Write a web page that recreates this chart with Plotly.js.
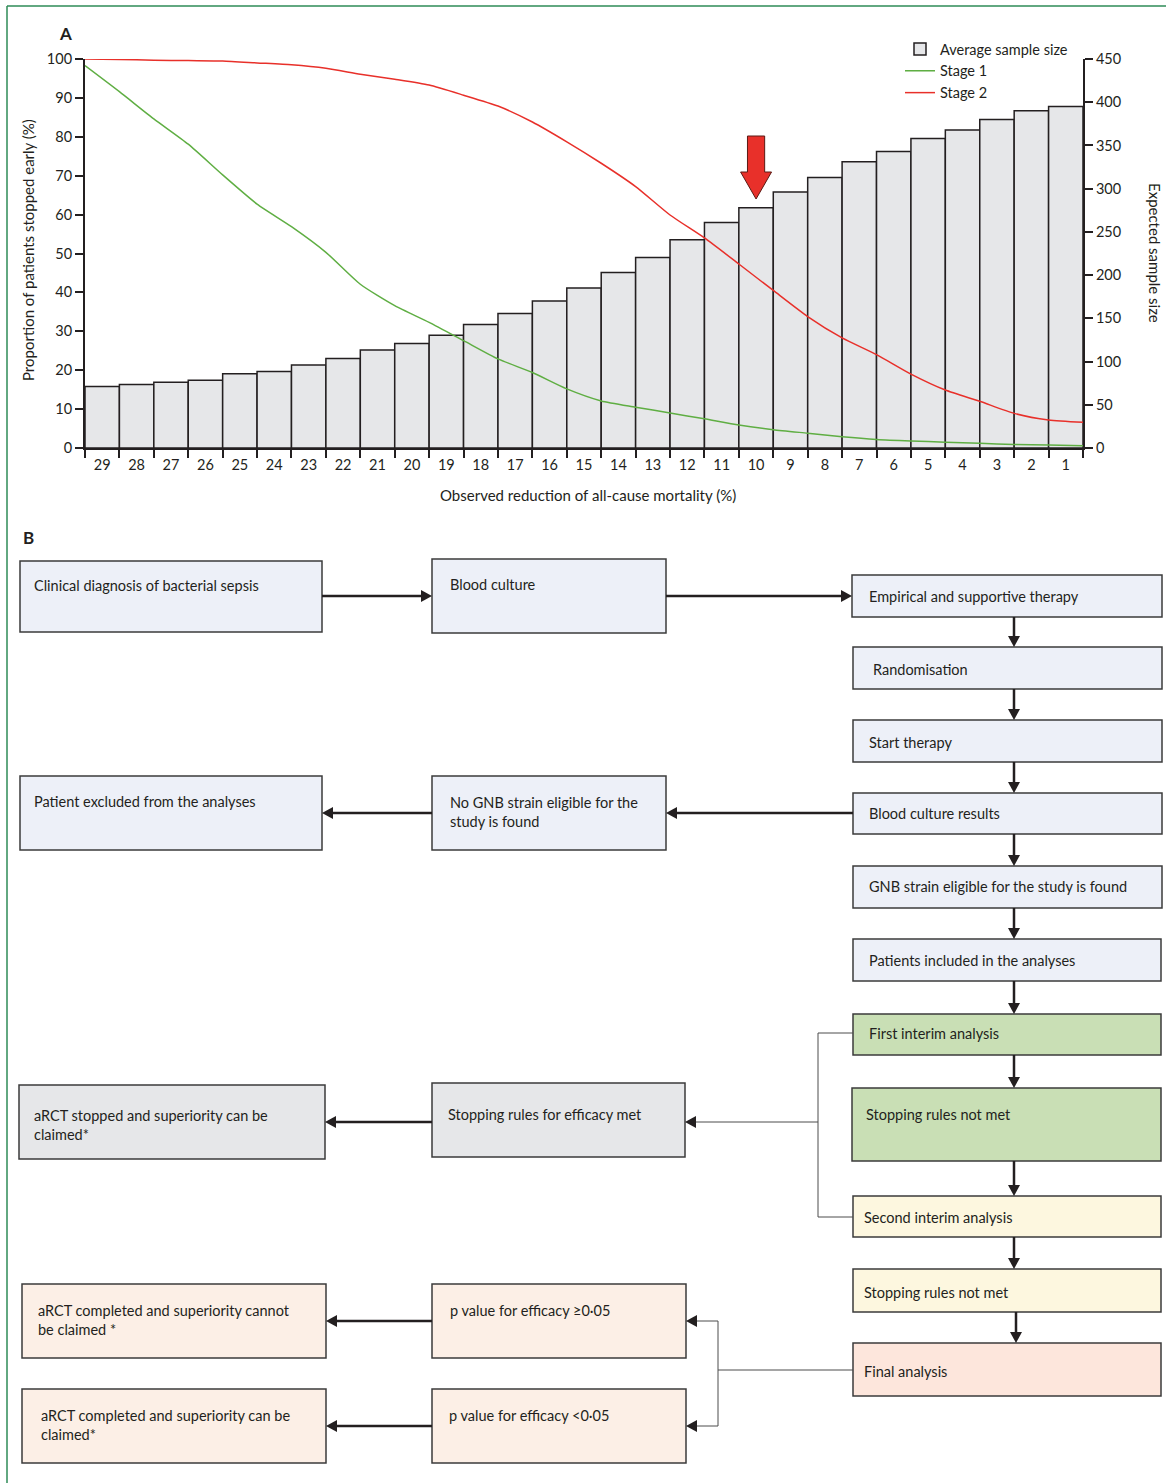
<!DOCTYPE html>
<html><head><meta charset="utf-8">
<script src="https://cdn.plot.ly/plotly-3.0.1.min.js"></script>
<style>html,body{margin:0;padding:0;background:#fff}#chart{width:1166px;height:1483px}</style>
</head><body><div id="chart"></div>
<script>
// ---- Data (panel A) ----
const reductionValues = [29,28,27,26,25,24,23,22,21,20,19,18,17,16,15,14,13,12,11,10,9,8,7,6,5,4,3,2,1];
const reductionLabels = ["29","28","27","26","25","24","23","22","21","20","19","18","17","16","15","14","13","12","11","10","9","8","7","6","5","4","3","2","1"];
const avgSampleSize = [71,73.5,76,78.5,86,88.5,96,103.5,113.5,121,130.5,143,155.5,170,185,203,220.5,241,261,278,296,313,331,343,358,368,380,390,395];
const lineReduction = [29.5,28.5,27.5,26.5,25.5,24.5,23.5,22.5,21.5,20.5,19.5,18.5,17.5,16.5,15.5,14.5,13.5,12.5,11.5,10.5,9.5,8.5,7.5,6.5,5.5,4.5,3.5,2.5,1.5,0.5];
const stage1 = [98.3,91.6,84.6,78.1,70.2,62.7,56.9,50.3,42.1,36.6,32.3,27.6,22.9,19.4,15.2,12.1,10.5,9.0,7.5,5.9,4.7,3.8,2.9,2.2,1.8,1.5,1.2,0.9,0.8,0.6];
const stage2 = [100,99.9,99.7,99.6,99.5,99,98.5,97.6,96.1,94.8,93.3,90.7,87.9,83.8,78.7,73.2,67.2,59.9,54,47.3,40.5,33.8,28.3,24,19,14.9,12,8.9,7.2,6.6];
const leftTicks = [0,10,20,30,40,50,60,70,80,90,100];
const rightTicks = [0,50,100,150,200,250,300,350,400,450];
const highlightedReduction = 10;

// ---- Flowchart text (panel B) ----
const flowTexts = {
  diag: "Clinical diagnosis of bacterial sepsis",
  blood: "Blood culture",
  emp: "Empirical and supportive therapy",
  rand: "Randomisation",
  start: "Start therapy",
  bcr: "Blood culture results",
  gnb: "GNB strain eligible for the study is found",
  incl: "Patients included in the analyses",
  first: "First interim analysis",
  notmet1: "Stopping rules not met",
  second: "Second interim analysis",
  notmet2: "Stopping rules not met",
  final: "Final analysis",
  excl: "Patient excluded from the analyses",
  nognb: "No GNB strain eligible for the<br>study is found",
  stopped: "aRCT stopped and superiority can be<br>claimed*",
  effmet: "Stopping rules for efficacy met",
  cannot: "aRCT completed and superiority cannot<br>be claimed *",
  pge: "p value for efficacy ≥0·05",
  can: "aRCT completed and superiority can be<br>claimed*",
  plt: "p value for efficacy &lt;0·05"
};

const W = 1166, H = 1483;
const X = p => p / W;
const Y = p => 1 - p / H;
const INK = '#231f20';
const FONT = 'Lato, "Open Sans", sans-serif';

const C_BLUE = '#edf0f8', C_GREY = '#e6e7e9', C_GREEN = '#c9dfb5', C_CREAM = '#fdf7df', C_PEACH = '#fde6dc', C_PEACH2 = '#fcefe6';

const boxes = [
  [20,561,322,632,C_BLUE,'diag',34,585],
  [432,559,666,633,C_BLUE,'blood',450,584],
  [852,575,1162,617,C_BLUE,'emp',869,596],
  [853,647,1162,689,C_BLUE,'rand',873,669],
  [853,720,1162,762,C_BLUE,'start',869,742],
  [853,793,1162,834,C_BLUE,'bcr',869,813],
  [853,866,1162,908,C_BLUE,'gnb',869,886],
  [853,939,1161,981,C_BLUE,'incl',869,960],
  [853,1014,1161,1055,C_GREEN,'first',869,1033],
  [852,1088,1161,1161,C_GREEN,'notmet1',866,1114],
  [853,1196,1161,1237,C_CREAM,'second',864,1217],
  [853,1269,1161,1312,C_CREAM,'notmet2',864,1292],
  [853,1343,1161,1396,C_PEACH,'final',864,1371],
  [20,776,322,850,C_BLUE,'excl',34,801],
  [432,776,666,850,C_BLUE,'nognb',450,811.5],
  [19,1085,325,1159,C_GREY,'stopped',34,1124.5],
  [432,1083,685,1157,C_GREY,'effmet',448,1114],
  [22,1284,326,1358,C_PEACH2,'cannot',38,1319.5],
  [432,1284,686,1358,C_PEACH2,'pge',450,1310],
  [22,1389,326,1463,C_PEACH2,'can',41,1425],
  [432,1389,686,1463,C_PEACH2,'plt',449,1415]
];

const shapes = [];
const annotations = [];

function seg(x0,y0,x1,y1,w,c){
  shapes.push({type:'line',xref:'paper',yref:'paper',x0:X(x0),y0:Y(y0),x1:X(x1),y1:Y(y1),line:{color:c,width:w}});
}
function tri(pts,c){
  shapes.push({type:'path',xref:'paper',yref:'paper',path:'M'+pts.map(p=>X(p[0])+','+Y(p[1])).join('L')+'Z',fillcolor:c,line:{width:0}});
}
const HL = 11, HW = 6;
function arrowH(xt,xh,y,w,c){
  const d = Math.sign(xh-xt);
  seg(xt,y,xh-d*HL,y,w,c);
  tri([[xh,y],[xh-d*HL,y-HW],[xh-d*HL,y+HW]],INK);
}
function arrowV(x,yt,yh,w,c){
  seg(x,yt,x,yh-HL,w,c);
  tri([[x,yh],[x-HW,yh-HL],[x+HW,yh-HL]],INK);
}

// frame
seg(7,6,1166,6,1.5,'#2e8b57');
seg(7,6,7,1483,1.5,'#2e8b57');

// boxes
boxes.forEach(b=>{
  shapes.push({type:'rect',xref:'paper',yref:'paper',x0:X(b[0]),x1:X(b[2]),y0:Y(b[3]),y1:Y(b[1]),fillcolor:b[4],line:{color:'#3b3b3b',width:1.5},layer:'below'});
  annotations.push({xref:'paper',yref:'paper',x:X(b[6]-2),y:Y(b[7]),xanchor:'left',yanchor:'middle',align:'left',showarrow:false,text:flowTexts[b[5]],font:{family:FONT,size:14.5,color:INK}});
});

// thick arrows
const TW = 2.5;
arrowH(322,432,596,TW,INK);
arrowH(666,852,596,TW,INK);
[[617,647],[689,720],[762,793],[834,866],[908,939],[981,1014],[1055,1088],[1161,1196],[1237,1269]].forEach(p=>arrowV(1014,p[0],p[1],TW,INK));
arrowV(1016,1312,1343,TW,INK);
arrowH(853,666,813,TW,INK);
arrowH(432,322,813,TW,INK);
arrowH(432,325,1122,TW,INK);
arrowH(432,326,1321,TW,INK);
arrowH(432,326,1426,TW,INK);
// thin connectors
const TH = 1, TC = '#4d4d4d';
seg(853,1033,818,1033,TH,TC);
seg(818,1033,818,1217,TH,TC);
seg(818,1217,853,1217,TH,TC);
arrowH(818,685,1122,TH,TC);
seg(853,1370,718,1370,TH,TC);
seg(718,1321,718,1426,TH,TC);
arrowH(718,686,1321,TH,TC);
arrowH(718,686,1426,TH,TC);

// red arrow over highlighted bar (x in data units)
const rw = 0.25, hw = 0.45;
shapes.push({type:'path',xref:'x',yref:'paper',
  path:`M${highlightedReduction+rw},${Y(136)}L${highlightedReduction-rw},${Y(136)}L${highlightedReduction-rw},${Y(172)}L${highlightedReduction-hw},${Y(172)}L${highlightedReduction},${Y(199)}L${highlightedReduction+hw},${Y(172)}L${highlightedReduction+rw},${Y(172)}Z`,
  fillcolor:'#e8302a',line:{color:'#5a1a14',width:1}});

// labels
const C = {xanchor:'center',yanchor:'middle',showarrow:false,xref:'paper',yref:'paper'};
annotations.push(Object.assign({},C,{x:X(65),y:Y(33),text:'<b>A</b>',font:{family:FONT,size:17,color:INK}}));
annotations.push(Object.assign({},C,{x:X(28),y:Y(537),text:'<b>B</b>',font:{family:FONT,size:17,color:INK}}));
annotations.push(Object.assign({},C,{x:X(28),y:Y(250),text:'Proportion of patients stopped early (%)',textangle:-90,font:{family:FONT,size:15,color:INK}}));
annotations.push(Object.assign({},C,{x:X(1155),y:Y(253),text:'Expected sample size',textangle:90,font:{family:FONT,size:15,color:INK}}));
annotations.push(Object.assign({},C,{x:X(588),y:Y(495),text:'Observed reduction of all-cause mortality (%)',font:{family:FONT,size:15,color:INK}}));

const axisCommon = {showgrid:false,zeroline:false,showline:true,linewidth:2,linecolor:INK,ticks:'outside',ticklen:8,tickwidth:2,tickcolor:INK,tickfont:{family:FONT,size:14.5,color:INK}};

const traces = [
  {type:'bar',x:reductionValues,y:avgSampleSize,width:1,name:'Average sample size',xaxis:'x',yaxis:'y',
   marker:{color:'#e6e7e9',line:{color:INK,width:1.5}},hoverinfo:'skip'},
  {type:'scatter',mode:'lines',x:lineReduction,y:stage1,name:'Stage 1',xaxis:'x2',yaxis:'y2',
   line:{color:'#5fae43',width:1.5,shape:'spline',smoothing:0.6}},
  {type:'scatter',mode:'lines',x:lineReduction,y:stage2,name:'Stage 2',xaxis:'x2',yaxis:'y2',
   line:{color:'#e8302a',width:1.5,shape:'spline',smoothing:0.6}}
];

const layout = {
  width:W,height:H,autosize:false,margin:{l:0,r:0,t:0,b:0},
  paper_bgcolor:'#fff',plot_bgcolor:'rgba(0,0,0,0)',
  font:{family:FONT,color:INK},
  bargap:0,
  xaxis:Object.assign({},axisCommon,{domain:[X(85),X(1083)],range:[29.5,0.5],tickmode:'array',tickvals:lineReduction,showticklabels:false,anchor:'y'}),
  yaxis:Object.assign({},axisCommon,{domain:[Y(448),Y(59)],range:[0,450],side:'right',tickmode:'array',tickvals:rightTicks,anchor:'x'}),
  xaxis2:Object.assign({},axisCommon,{overlaying:'x',range:[29.5,0.5],tickmode:'array',tickvals:reductionValues,ticktext:reductionLabels,showline:false,tickcolor:'rgba(0,0,0,0)',ticklen:4,anchor:'y2',side:'bottom'}),
  yaxis2:Object.assign({},axisCommon,{overlaying:'y',range:[0,100],side:'left',tickmode:'array',tickvals:leftTicks,anchor:'x2'}),
  legend:{x:X(900),y:Y(33),xanchor:'left',yanchor:'top',bgcolor:'rgba(0,0,0,0)',font:{family:FONT,size:14.5,color:INK},itemwidth:30,traceorder:'normal'},
  showlegend:true,
  shapes:shapes,
  annotations:annotations
};

Plotly.newPlot('chart',traces,layout,{displayModeBar:false,staticPlot:true});
</script></body></html>
